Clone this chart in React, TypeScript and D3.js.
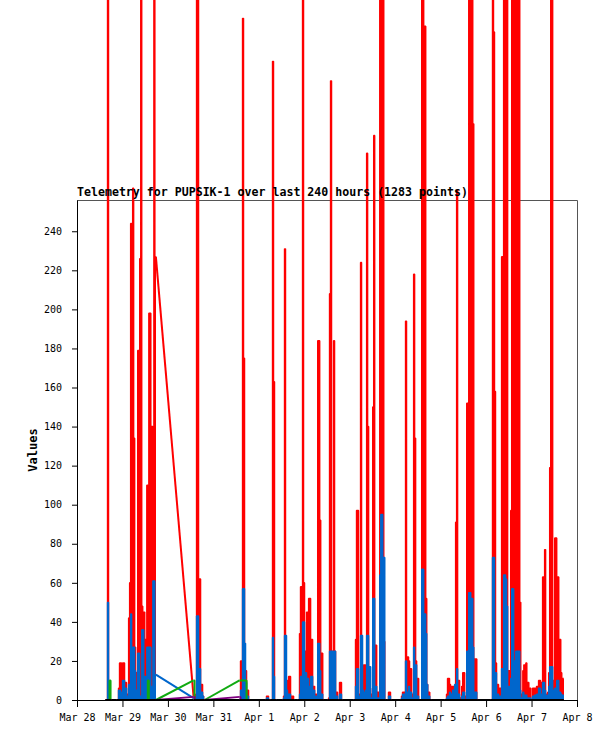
import * as d3 from 'd3';
import { useEffect, useRef } from 'react';

// start of each burst of samples; samples inside a burst are 32 minutes apart
const clusterStart = [
  '2025-03-28T15:19', '2025-03-28T21:07', '2025-03-30T13:47', '2025-03-31T14:04',
  '2025-04-01T03:47', '2025-04-01T06:26', '2025-04-01T12:46', '2025-04-01T20:41',
  '2025-04-02T12:32', '2025-04-02T18:20', '2025-04-03T02:15', '2025-04-03T20:12',
  '2025-04-04T03:04', '2025-04-05T02:18', '2025-04-06T02:35', '2025-04-07T00:14',
];
const sampleMinutes = 32;

const redValues = [
  [0, 0, 400, 0, 0, 0],
  [0, 0, 6, 19, 19, 5, 19, 19, 9, 9, 3, 3, 42, 60, 244, 169, 262, 134, 27, 14, 14, 179, 179, 226, 400, 48, 45, 45, 31, 31, 110, 96, 198, 198, 140, 140, 20, 400, 227],
  [2, 2, 3, 400, 400, 62, 62, 8, 8, 2, 0],
  [0, 20, 20, 349, 175, 15, 15, 5, 5, 0],
  [0, 2, 2, 0],
  [0, 0, 327, 163, 0, 0],
  [0, 2, 231, 10, 10, 5, 12, 12, 0, 2, 2, 0],
  [0, 0, 34, 58, 58, 400, 60, 25, 25, 45, 45, 52, 52, 31, 31, 7, 7, 3, 3, 3, 184, 184, 92, 24, 24, 0],
  [0, 1, 208, 317, 25, 5, 184, 25, 4, 4, 0],
  [0, 9, 9, 0],
  [0, 0, 31, 97, 97, 3, 3, 224, 11, 11, 18, 18, 15, 280, 140, 6, 6, 3, 3, 150, 289, 28, 28, 4, 4, 4, 400, 400, 400, 400, 30, 0],
  [0, 4, 4, 0],
  [0, 2, 4, 4, 4, 194, 22, 22, 20, 16, 16, 3, 3, 218, 134, 20, 11, 11, 0, 0, 0, 400, 400, 345, 345, 52, 8, 4, 4, 0, 0],
  [0, 0, 3, 11, 11, 8, 7, 7, 7, 7, 7, 91, 261, 10, 10, 1, 1, 7, 14, 14, 2, 2, 152, 152, 400, 400, 400, 400, 295, 21, 21, 21, 0],
  [0, 0, 400, 342, 158, 19, 8, 8, 6, 6, 6, 227, 227, 400, 400, 400, 400, 15, 15, 15, 97, 400, 400, 251, 400, 400, 400, 400, 400, 50, 3, 3, 15, 18, 18, 19, 9, 9, 6, 6, 0],
  [0, 6, 6, 6, 6, 7, 7, 10, 10, 9, 9, 63, 63, 77, 3, 3, 4, 14, 119, 400, 400, 10, 10, 83, 83, 63, 63, 31, 31, 14, 11, 11],
];

const blueValues = [
  [0, 0, 50, 0, 0, 0],
  [0, 0, 5, 5, 4, 3, 10, 10, 6, 6, 2, 2, 8, 8, 44, 25, 27, 27, 15, 5, 5, 24, 24, 2, 2, 36, 36, 12, 12, 8, 27, 27, 27, 27, 7, 7, 61, 61, 13],
  [1, 1, 1, 43, 43, 16, 16, 4, 4, 2, 0],
  [0, 5, 5, 57, 57, 29, 9, 2, 2, 0],
  [0, 1, 1, 0],
  [0, 0, 32, 12, 0, 0],
  [0, 1, 33, 33, 5, 2, 3, 3, 0, 0, 0, 0],
  [0, 0, 3, 12, 12, 40, 40, 14, 14, 11, 11, 7, 7, 12, 12, 5, 5, 2, 2, 2, 29, 29, 15, 3, 3, 0],
  [0, 0, 25, 25, 25, 3, 25, 25, 2, 2, 0],
  [0, 3, 3, 0],
  [0, 0, 7, 16, 16, 2, 2, 33, 33, 5, 4, 4, 5, 33, 33, 17, 17, 1, 1, 52, 52, 7, 7, 1, 1, 1, 64, 95, 95, 73, 73, 0],
  [0, 2, 2, 0],
  [0, 1, 3, 3, 3, 20, 4, 4, 7, 4, 4, 1, 1, 27, 18, 18, 2, 2, 0, 0, 0, 67, 67, 44, 44, 34, 8, 2, 2, 0, 0],
  [0, 0, 1, 2, 2, 4, 3, 3, 5, 5, 8, 8, 16, 3, 3, 0, 0, 2, 4, 4, 0, 0, 25, 25, 55, 55, 52, 52, 27, 4, 4, 4, 0],
  [0, 0, 73, 73, 14, 14, 3, 3, 2, 2, 2, 16, 16, 64, 64, 62, 48, 7, 7, 7, 11, 57, 57, 20, 20, 25, 25, 25, 25, 5, 1, 1, 4, 2.5, 2.5, 2.5, 1, 1, 1, 1, 0],
  [0, 2, 2, 2.5, 2.5, 3, 3, 6, 6, 3, 3, 9, 9, 5, 2.5, 2.5, 1, 7, 17, 17, 17, 5, 3, 6, 6, 10, 10, 4, 4, 3, 2.5, 2.5],
];

// empty list = the series sits at 0 through that burst
const greenValues = [
  [0, 0, 0, 0, 10, 0],
  [0, 0, 0, 0, 0, 0, 0, 0, 0, 0, 0, 0, 0, 0, 0, 0, 0, 0, 0, 0, 0, 0, 0, 0, 0, 0, 0, 0, 0, 0, 0, 10, 0, 0, 0, 0, 0, 0, 0],
  [10, 0],
  [10, 10, 10, 10, 10, 10, 10, 0],
  [], [], [], [], [], [], [], [], [], [], [], [],
];
const purpleValues = [
  [], [], [1.6, 0], [1.6, 0],
  [], [], [], [], [], [], [], [], [], [], [], [],
];

const seriesColors = ['#ff0000', '#0066cc', '#11aa11', '#800080', '#000000'];
const yTicks = d3.range(0, 241, 20);
const title = 'Telemetry for PUPSIK-1 over last 240 hours (1283 points)';

const font = "'DejaVu Sans Mono', monospace";

interface Pt {
  t: Date;
  v: number;
}

const parse = d3.timeParse('%Y-%m-%dT%H:%M');

// every sample holds its value for one sample slot, so bursts read as solid columns
function buildSeries(values: number[][]): Pt[][] {
  return clusterStart.map((s, i) => {
    const t0 = parse(s)!;
    const pts: Pt[] = [];
    for (let k = 0; k < redValues[i].length; k++) {
      const mid = k * sampleMinutes;
      const v = values[i][k] ?? 0;
      pts.push({ t: d3.timeMinute.offset(t0, mid - sampleMinutes / 2), v });
      pts.push({ t: d3.timeMinute.offset(t0, mid + sampleMinutes / 2), v });
    }
    return pts;
  });
}

const Chart = () => {
  const ref = useRef<SVGSVGElement>(null);

  useEffect(() => {
    const svg = d3.select(ref.current);
    svg.selectAll('*').remove();

    const left = 77, right = 577, top = 200, bottom = 700;

    const x = d3.scaleTime()
      .domain([new Date(2025, 2, 28), new Date(2025, 3, 8)])
      .range([left, right]);
    const y = d3.scaleLinear().domain([0, 256]).range([bottom, top]);

    svg.append('rect').attr('width', 615).attr('height', 741).attr('fill', '#fff');

    // frame top / right
    svg.append('path')
      .attr('d', `M${left},${top + 0.5}H${right + 0.5}V${bottom}`)
      .attr('fill', 'none')
      .attr('stroke', '#555');

    const zeros = clusterStart.map(() => [] as number[]);
    const series = [redValues, blueValues, greenValues, purpleValues, zeros].map(buildSeries);

    const line = d3.line<Pt>().x(d => x(d.t)).y(d => y(d.v));
    const area = d3.area<Pt>().x(d => x(d.t)).y0(bottom).y1(d => y(d.v));

    series.forEach((bursts, i) => {
      const g = svg.append('g');
      if (i < 2) {
        g.selectAll('path.fill')
          .data(bursts)
          .join('path')
          .attr('class', 'fill')
          .attr('d', d => area(d))
          .attr('fill', seriesColors[i])
          .attr('shape-rendering', 'crispEdges');
      }
      // the line inside each burst
      g.selectAll('path.burst')
        .data(bursts)
        .join('path')
        .attr('class', 'burst')
        .attr('d', d => line(d))
        .attr('fill', 'none')
        .attr('stroke', seriesColors[i])
        .attr('stroke-width', i === 4 ? 2 : i < 2 ? 1.4 : 2)
        .attr('stroke-linejoin', 'bevel');
      // the line across the silent stretch between two bursts
      g.selectAll('path.link')
        .data(d3.pairs(bursts))
        .join('path')
        .attr('class', 'link')
        .attr('d', ([a, b]) => line([a[a.length - 1], b[0]]))
        .attr('fill', 'none')
        .attr('stroke', seriesColors[i])
        .attr('stroke-width', 2);
    });

    const xAxis = svg.append('g')
      .attr('transform', `translate(0,${bottom})`)
      .call(
        d3.axisBottom(x)
          .ticks(d3.timeDay.every(1))
          .tickFormat(d => d3.timeFormat('%b %-d')(d as Date))
          .tickSize(7)
          .tickSizeOuter(0)
          .tickPadding(7)
      );

    const yAxis = svg.append('g')
      .attr('transform', `translate(${left},0)`)
      .call(d3.axisLeft(y).tickValues(yTicks).tickSize(5).tickSizeOuter(0).tickPadding(10));

    [xAxis, yAxis].forEach(ax => {
      ax.attr('font-family', font).attr('font-size', 10);
      ax.selectAll('text').attr('fill', '#000');
      ax.selectAll('line, path').attr('stroke', '#000');
    });

    svg.append('text')
      .attr('x', left)
      .attr('y', 196)
      .attr('font-family', font)
      .attr('font-weight', 'bold')
      .attr('font-size', 11.6)
      .text(title);

    svg.append('text')
      .attr('transform', 'translate(36.5,450) rotate(-90)')
      .attr('text-anchor', 'middle')
      .attr('font-family', font)
      .attr('font-weight', 'bold')
      .attr('font-size', 12)
      .text('Values');
  }, []);

  return <svg ref={ref} width={615} height={741} style={{ position: 'absolute', left: 0, top: 0 }} />;
};

export default function App() {
  return <Chart />;
}
